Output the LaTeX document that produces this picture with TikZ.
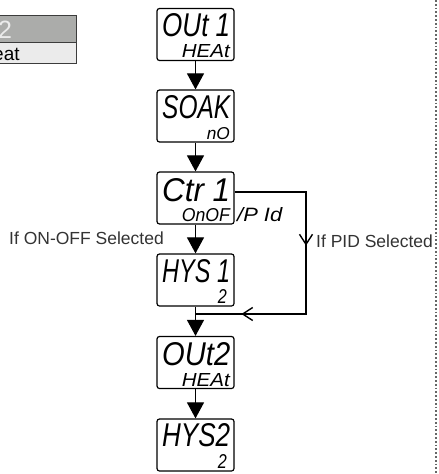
\documentclass[tikz,border=0pt]{standalone}
\usepackage{fontspec}
\setmainfont{Liberation Sans}
\usetikzlibrary{arrows.meta,decorations.markings,calc}
\newcommand\segbig[1]{\resizebox{68pt}{23pt}{\itshape #1}}
\newcommand\segsmall[3]{\resizebox{#1}{#2}{\itshape #3}}
\definecolor{tabgray}{HTML}{ABACAA}
\definecolor{tabrow}{HTML}{EBEBEB}
\definecolor{tabline}{HTML}{3C3C3C}
\definecolor{labtext}{HTML}{333333}
\definecolor{dotcol}{HTML}{666666}
\begin{document}
\begin{tikzpicture}[x=1pt,y=-1pt,
  disp/.style={draw=black,line width=1.2pt,rounded corners=2.5pt,fill=white,
    minimum width=77pt,minimum height=52pt,inner sep=0pt},
  segtxt/.style={inner sep=0pt,text=black},
  flow/.style={line width=1.1pt,-{Triangle[length=16pt,width=17pt]}},
  branch/.style={line width=1.2pt,postaction={decorate},
    decoration={markings,
      mark=at position 125pt with {\arrow{Straight Barb[length=10pt,width=13pt,line width=1.4pt]}},
      mark=at position 258pt with {\arrow{Straight Barb[length=10pt,width=13pt,line width=1.4pt]}}}},
  lbl/.style={inner sep=0pt,text=labtext,font=\fontsize{17.5}{20}\selectfont},
  dotline/.style={draw=dotcol,line width=1.6pt,dash pattern=on 1.8pt off 2pt},
]
\useasboundingbox (0,0) rectangle (439,474);

% table fragment
\node[draw=tabline,line width=1.3pt,fill=tabgray,minimum width=81pt,minimum height=27pt,inner sep=0pt,anchor=north west] (tgray) at (-5,15) {};
\node[draw=tabline,line width=1.3pt,fill=tabrow,minimum width=81pt,minimum height=21pt,inner sep=0pt,anchor=north west] (trow) at (-5,42) {};
\node[anchor=base west,inner sep=0pt,text=white!92!black,font=\fontsize{25}{28}\selectfont] (t2) at (-2,38) {2};
\node[anchor=base west,inner sep=0pt,text=black,font=\fontsize{19}{22}\selectfont] (teat) at (-7,60) {eat};

% displays
\node[disp] (b1) at (195.5,34.5) {};
\node[disp] (b2) at (195.5,116) {};
\node[disp] (b3) at (195.5,198) {};
\node[disp] (b4) at (195.5,280) {};
\node[disp] (b5) at (195.5,362.5) {};
\node[disp] (b6) at (195.5,445) {};

\node[segtxt,anchor=base west] (b1t) at (162,36) {\segbig{OUt 1}};
\node[segtxt,anchor=base east] (b1s) at (230,57) {\segsmall{48pt}{13pt}{HEAt}};
\node[segtxt,anchor=base west] (b2t) at (162,118) {\segbig{SOAK}};
\node[segtxt,anchor=base east] (b2s) at (230,139) {\segsmall{23pt}{12pt}{nO}};
\node[segtxt,anchor=base west] (b3t) at (162,201) {\segbig{Ctr 1}};
\node[segtxt,anchor=base east] (b3s) at (230,221) {\segsmall{48pt}{13pt}{OnOF}};
\node[segtxt,anchor=base west] (b3x) at (237,221) {\segsmall{45pt}{14pt}{/P Id}};
\node[segtxt,anchor=base west] (b4t) at (162,282) {\segbig{HYS 1}};
\node[segtxt,anchor=base east] (b4s) at (227,303) {\segsmall{9pt}{14pt}{2}};
\node[segtxt,anchor=base west] (b5t) at (162,365) {\segbig{OUt2}};
\node[segtxt,anchor=base east] (b5s) at (230,386) {\segsmall{48pt}{13pt}{HEAt}};
\node[segtxt,anchor=base west] (b6t) at (162,446) {\segbig{HYS2}};
\node[segtxt,anchor=base east] (b6s) at (227,468) {\segsmall{9pt}{14pt}{2}};

% main flow
\draw[flow] (b1) -- (b2);
\draw[flow] (b2) -- (b3);
\draw[flow] (b3) -- (b4);
\draw[flow] (b4) -- (b5);
\draw[flow] (b5) -- (b6);

% PID branch
\coordinate (c0) at ($(b3.east)+(0,-6)$);
\coordinate (c1) at (306,192);
\coordinate (c2) at (306,314);
\coordinate (j) at (195.5,314);
\draw[branch] (c0) -- (c1) -- (c2) -- (j);

% labels
\node[lbl,anchor=east] (lon) at (164,238) {If ON-OFF Selected};
\node[lbl,anchor=west] (lpid) at (316,241) {If PID Selected};

% dotted separator
\coordinate (d0) at (436,0);
\coordinate (d1) at (436,474);
\draw[dotline] (d0) -- (d1);
\end{tikzpicture}
\end{document}
